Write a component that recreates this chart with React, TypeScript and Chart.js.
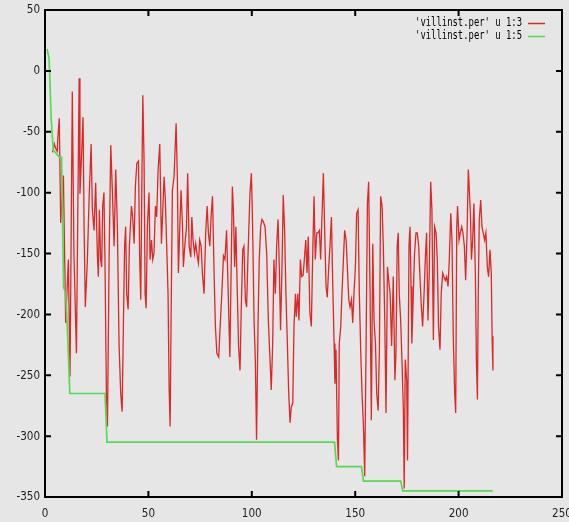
import React, { useEffect, useRef } from 'react';
import { Chart, registerables } from 'chart.js';

Chart.register(...registerables);

// ---- axes ----
const xMin = 0;
const xMax = 250;
const yMin = -350;
const yMax = 50;
const tickStep = 50;

const legendLabels = ["'villinst.per' u 1:3", "'villinst.per' u 1:5"];

// ---- 'villinst.per' u 1:3 ----
const redX = [
  3.7, 4.5, 5.2, 5.9, 6.4, 6.9, 7.6, 8.9, 10, 11.3, 12.1, 13.2, 14, 15.2, 16.5, 16.9, 17.6, 18.4, 18.9, 19.5,
  20.5, 21.3, 22.3, 22.9, 23.7, 24.5, 25.3, 25.8, 26.3, 26.9, 27.4, 27.9, 28.5, 29, 29.7, 30.2, 31, 31.8, 32.6, 33.4,
  34.2, 35, 35.8, 36.6, 37.3, 37.9, 38.5, 39, 39.5, 40.2, 40.8, 41.8, 42.4, 43.1, 43.7, 44.4, 45.2, 45.8, 46.3, 46.8,
  47.3, 47.9, 48.4, 48.9, 49.5, 50.3, 50.8, 51.5, 52.1, 52.7, 53.4, 54, 54.7, 55.5, 56.3, 56.9, 57.6, 58.2, 58.9, 59.5,
  60, 60.5, 61, 61.6, 62.4, 63.4, 64, 64.5, 65.2, 65.8, 66.5, 66.9, 67.6, 68.4, 69, 69.7, 70.5, 71, 71.6, 72.3,
  72.9, 73.7, 74.2, 74.8, 75.5, 76.1, 76.9, 77.7, 78.4, 79, 79.7, 80.3, 81, 81.8, 82.4, 83.1, 84, 84.7, 85.5, 86.3,
  87, 87.8, 88.6, 89.4, 90.6, 91.1, 91.7, 92.3, 93, 93.6, 94.3, 94.9, 95.6, 96.2, 96.9, 97.5, 98.1, 99.1, 99.8, 100.4,
  101.1, 101.7, 102.3, 103, 103.6, 104.3, 104.9, 105.6, 106.4, 107.2, 108, 108.8, 109.4, 110.1, 110.7, 111.4, 112, 112.7, 113.3, 113.9,
  114.6, 115.2, 115.9, 116.5, 117.2, 117.8, 118.5, 119.1, 119.8, 120.4, 121.1, 121.5, 122.2, 122.8, 123.5, 124.1, 124.8, 125.4, 126.1, 126.7,
  127.3, 128.1, 128.8, 129.4, 130.1, 130.7, 131.4, 132, 132.7, 133.3, 133.9, 134.6, 135.2, 135.9, 136.5, 137.2, 137.8, 138.5, 139.1, 139.8,
  140.2, 140.7, 141.4, 141.9, 142.3, 143, 143.6, 144.3, 144.9, 145.6, 146.2, 146.9, 147.5, 148.2, 148.8, 149.4, 150.1, 150.7, 151.4, 152,
  152.7, 153.3, 154, 154.6, 155.2, 155.9, 156.5, 157.2, 157.8, 158.5, 159.1, 159.8, 160.4, 161.1, 161.7, 162.3, 163, 163.6, 164.3, 164.9,
  165.6, 166.2, 166.9, 167.6, 168.4, 169.2, 169.7, 170.3, 170.8, 171.3, 172, 172.6, 173.3, 173.7, 174.2, 174.9, 175.3, 176, 176.5, 177,
  177.4, 178.1, 178.7, 179.4, 180, 180.7, 181.3, 182, 182.6, 183.3, 183.9, 184.5, 185.2, 185.8, 186.5, 187.1, 187.8, 188.4, 189.1, 189.7,
  190.3, 191, 191.6, 192.3, 192.9, 193.6, 194.2, 194.9, 195.5, 196.2, 196.8, 197.4, 198.1, 198.6, 199.1, 199.5, 200.2, 200.8, 201.5, 202.1,
  202.8, 203.4, 204.1, 204.7, 205.2, 205.7, 206.2, 206.8, 207.4, 208.1, 208.6, 209.1, 209.5, 210, 210.7, 211.3, 211.9, 212.6, 213.2, 213.9,
  214.5, 215.2, 215.8, 216.2, 216.6,
];
const redY = [
  -67, -60, -64, -66, -50, -39, -125, -86, -207, -155, -251, -17, -150, -232, -6, -101, -73, -38, -128, -194,
  -155, -106, -60, -114, -131, -92, -150, -169, -114, -155, -161, -111, -100, -155, -265, -292, -155, -61, -100, -144,
  -81, -128, -224, -265, -280, -210, -144, -128, -183, -196, -144, -111, -120, -142, -95, -76, -74, -155, -188, -100,
  -20, -73, -183, -195, -128, -100, -155, -139, -155, -150, -111, -120, -81, -60, -142, -117, -87, -106, -147, -183,
  -259, -292, -199, -98, -87, -43, -87, -166, -128, -98, -128, -161, -144, -128, -84, -144, -153, -120, -139, -150,
  -142, -153, -158, -139, -144, -166, -183, -133, -111, -133, -144, -120, -103, -169, -210, -232, -235, -210, -183, -152,
  -155, -131, -183, -235, -95, -114, -161, -128, -183, -226, -246, -196, -147, -144, -188, -194, -155, -101, -84, -128,
  -205, -237, -303, -210, -155, -128, -122, -124, -128, -150, -205, -237, -262, -224, -155, -183, -144, -122, -161, -213,
  -161, -102, -133, -183, -224, -262, -289, -276, -273, -210, -183, -202, -183, -205, -155, -169, -168, -155, -139, -166,
  -136, -199, -210, -155, -103, -155, -133, -133, -131, -155, -122, -84, -128, -177, -186, -161, -144, -120, -172, -224,
  -257, -229, -303, -320, -224, -210, -183, -155, -131, -139, -161, -188, -194, -188, -207, -183, -161, -117, -114, -183,
  -232, -265, -292, -333, -237, -109, -91, -183, -287, -142, -205, -224, -265, -279, -229, -103, -111, -144, -205, -281,
  -161, -172, -183, -226, -169, -254, -232, -144, -133, -183, -205, -237, -279, -343, -237, -254, -320, -144, -128, -177,
  -224, -183, -150, -133, -133, -144, -169, -194, -210, -183, -155, -133, -205, -166, -91, -114, -221, -128, -133, -155,
  -210, -229, -183, -166, -169, -172, -169, -177, -155, -117, -139, -216, -265, -281, -128, -111, -139, -133, -128, -133,
  -144, -172, -133, -81, -98, -117, -155, -139, -109, -166, -237, -270, -183, -122, -106, -128, -133, -139, -133, -161,
  -169, -147, -166, -218, -246,
];

// ---- 'villinst.per' u 1:5 (running minimum, corner points) ----
const greenX = [1, 2, 3, 4, 7, 8, 9, 10, 11, 12, 29, 30, 140, 141, 153, 154, 172, 173, 216.5];
const greenY = [18, 10, -40, -65, -71, -71, -178, -182, -219, -265, -265, -305, -305, -325, -325, -337, -337, -345, -345];

// ---- styles ----
const BG = '#e6e6e6';
const RED = '#dc2828';
const GREEN = '#55da55';
const TEXT = '#1e1e1e';

function drawScaledText(
  ctx: CanvasRenderingContext2D,
  text: string,
  x: number,
  y: number,
  align: CanvasTextAlign,
  sx: number
) {
  ctx.save();
  ctx.translate(x, y);
  ctx.scale(sx, 1);
  ctx.textAlign = align;
  ctx.textBaseline = 'middle';
  ctx.fillText(text, 0, 0);
  ctx.restore();
}

const gnuplotPlugin = {
  id: 'gnuplotLook',
  beforeDraw(chart: any) {
    const { ctx, width, height } = chart;
    ctx.save();
    ctx.fillStyle = BG;
    ctx.fillRect(0, 0, width, height);
    ctx.restore();
  },
  afterDatasetsDraw(chart: any) {
    const { ctx, chartArea: a, scales } = chart;
    const xs = scales.x;
    const ys = scales.y;
    ctx.save();
    ctx.setLineDash([]);
    ctx.globalAlpha = 1;
    ctx.strokeStyle = '#000000';
    ctx.lineWidth = 2;
    ctx.beginPath();
    ctx.rect(a.left, a.top, a.right - a.left, a.bottom - a.top);
    ctx.stroke();

    const tl = 6;
    ctx.beginPath();
    xs.ticks.forEach((t: any) => {
      const p = xs.getPixelForValue(t.value);
      ctx.moveTo(p, a.bottom);
      ctx.lineTo(p, a.bottom - tl);
      ctx.moveTo(p, a.top);
      ctx.lineTo(p, a.top + tl);
    });
    ys.ticks.forEach((t: any) => {
      const p = ys.getPixelForValue(t.value);
      ctx.moveTo(a.left, p);
      ctx.lineTo(a.left + tl, p);
      ctx.moveTo(a.right, p);
      ctx.lineTo(a.right - tl, p);
    });
    ctx.stroke();

    ctx.fillStyle = TEXT;
    ctx.font = '13px "DejaVu Sans", sans-serif';
    ys.ticks.forEach((t: any) => {
      const p = ys.getPixelForValue(t.value);
      drawScaledText(ctx, String(t.value), a.left - 5, p, 'right', 0.8);
    });
    xs.ticks.forEach((t: any) => {
      const p = xs.getPixelForValue(t.value);
      drawScaledText(ctx, String(t.value), p, a.bottom + 17, 'center', 0.8);
    });

    // key
    const colors = [RED, GREEN];
    ctx.fillStyle = '#000';
    ctx.font = '12px "DejaVu Sans Mono", monospace';
    legendLabels.forEach((label, i) => {
      const y = a.top + 13 + i * 13;
      drawScaledText(ctx, label, a.right - 40, y, 'right', 0.74);
      ctx.strokeStyle = colors[i];
      ctx.lineWidth = 1.5;
      ctx.beginPath();
      ctx.moveTo(a.right - 34, y + 0.5);
      ctx.lineTo(a.right - 17, y + 0.5);
      ctx.stroke();
    });
    ctx.restore();
  },
};

export default function App() {
  const canvasRef = useRef<HTMLCanvasElement | null>(null);

  useEffect(() => {
    const canvas = canvasRef.current;
    if (!canvas) return;
    const redData = redX.map((x, i) => ({ x, y: redY[i] }));
    const greenData = greenX.map((x, i) => ({ x, y: greenY[i] }));

    const chart = new Chart(canvas, {
      type: 'line',
      data: {
        datasets: [
          {
            label: legendLabels[0],
            data: redData,
            borderColor: RED,
            borderWidth: 1.3,
            pointRadius: 0,
            tension: 0,
            fill: false,
            order: 1,
          },
          {
            label: legendLabels[1],
            data: greenData,
            borderColor: GREEN,
            borderWidth: 1.7,
            pointRadius: 0,
            tension: 0,
            fill: false,
            order: 0,
          },
        ],
      },
      options: {
        responsive: false,
        animation: false,
        events: [],
        layout: { padding: { left: 45, right: 7, top: 10, bottom: 25 } },
        plugins: {
          legend: { display: false },
          tooltip: { enabled: false },
        },
        scales: {
          x: {
            type: 'linear',
            min: xMin,
            max: xMax,
            display: false,
            ticks: { stepSize: tickStep },
          },
          y: {
            type: 'linear',
            min: yMin,
            max: yMax,
            display: false,
            ticks: { stepSize: tickStep },
          },
        },
      },
      plugins: [gnuplotPlugin],
    });
    return () => chart.destroy();
  }, []);

  return (
    <div
      style={{
        position: 'fixed',
        left: 0,
        top: 0,
        width: 569,
        height: 522,
        background: BG,
      }}
    >
      <canvas ref={canvasRef} width={569} height={522} style={{ display: 'block' }} />
    </div>
  );
}
